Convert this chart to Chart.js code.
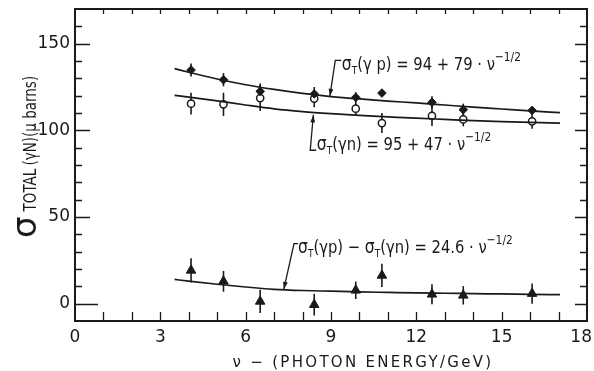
<!DOCTYPE html>
<html lang="en">
<head>
<meta charset="UTF-8">
<title>Total photon-nucleon cross section</title>
<script src="https://cdn.jsdelivr.net/npm/chart.js"></script>
<style>
  html, body { margin: 0; padding: 0; background: #fff; }
</style>
</head>
<body>
<canvas id="chart" width="594" height="371"></canvas>
<script>
// photon energies (GeV) of the measurements
const energy = [4.08, 5.22, 6.51, 8.41, 9.87, 10.79, 12.55, 13.65, 16.07];

// sigma_T(gamma p), filled points
const sigmaP = [134.8, 129.2, 122.5, 121.0, 119.0, 121.5, 116.2, 111.9, 111.5];
const errP   = [3.8, 3.8, 4.5, 4.0, 3.0, 0, 3.5, 3.5, 2.0];

// sigma_T(gamma n), open points
const sigmaN = [115.4, 115.0, 118.6, 118.3, 112.5, 104.2, 108.3, 106.3, 105.2];
const errN   = [6.3, 6.7, 7.5, 5.0, 4.0, 5.8, 5.8, 4.0, 4.3];

// difference p - n, triangles
const sigmaD = [19.2, 12.9, 1.3, -0.6, 7.7, 16.3, 5.4, 4.8, 5.8];
const errD   = [7.0, 6.0, 6.7, 6.3, 5.0, 6.7, 5.8, 5.3, 5.8];

// fitted curves as drawn on the plot
const fitNu   = [3.5, 4, 5, 6, 7, 8, 9, 10, 11, 12, 13, 14, 15, 16, 17.05];
const fitP    = [135.6, 133.5, 129.6, 126.3, 123.6, 121.3, 119.5, 118.1, 116.9, 115.8, 114.6, 113.4, 112.3, 111.2, 110.2];
const fitN    = [120.2, 119.2, 117.0, 114.6, 112.4, 110.8, 109.6, 108.6, 107.8, 107.0, 106.3, 105.6, 105.0, 104.6, 104.2];
const fitDiff = [14.0, 13.0, 11.2, 9.6, 8.3, 7.6, 7.2, 6.8, 6.5, 6.2, 6.0, 5.8, 5.6, 5.4, 5.2];

// labelled ticks
const xLabelTicks = [0, 3, 6, 9, 12, 15, 18];
const yLabelTicks = [0, 50, 100, 150];

const FONT = '"DejaVu Sans", sans-serif';
const INK = '#1a1a1a';

function pts(xs, ys) {
  return xs.map((x, i) => ({ x: x, y: ys[i] }));
}

// draw a run of text pieces (different sizes / offsets), optionally squeezed
function drawRuns(ctx, x, y, runs, sx) {
  runs.forEach(r => {
    const k = r.sx || sx || 1;
    ctx.font = r.font;
    ctx.save();
    ctx.translate(x, y + (r.dy || 0));
    ctx.scale(k, 1);
    ctx.fillText(r.text, 0, 0);
    ctx.restore();
    x += ctx.measureText(r.text).width * k + (r.gap || 0);
  });
  return x;
}

function arrowLine(ctx, p) {
  ctx.beginPath();
  ctx.moveTo(p[0][0], p[0][1]);
  for (let i = 1; i < p.length; i++) ctx.lineTo(p[i][0], p[i][1]);
  ctx.stroke();
  const a = p[p.length - 2], b = p[p.length - 1];
  const ang = Math.atan2(b[1] - a[1], b[0] - a[0]);
  ctx.beginPath();
  ctx.moveTo(b[0], b[1]);
  ctx.lineTo(b[0] - 8 * Math.cos(ang - 0.3), b[1] - 8 * Math.sin(ang - 0.3));
  ctx.lineTo(b[0] - 8 * Math.cos(ang + 0.3), b[1] - 8 * Math.sin(ang + 0.3));
  ctx.closePath();
  ctx.fill();
}

const decor = {
  id: 'decor',
  beforeDatasetsDraw(chart) {
    // error bars
    const ctx = chart.ctx, xs = chart.scales.x, ys = chart.scales.y;
    ctx.save();
    ctx.strokeStyle = INK;
    ctx.lineWidth = 1.6;
    [[sigmaP, errP], [sigmaN, errN], [sigmaD, errD]].forEach(([v, e]) => {
      v.forEach((val, i) => {
        if (!e[i]) return;
        const px = xs.getPixelForValue(energy[i]);
        ctx.beginPath();
        ctx.moveTo(px, ys.getPixelForValue(val - e[i]));
        ctx.lineTo(px, ys.getPixelForValue(val + e[i]));
        ctx.stroke();
      });
    });
    ctx.restore();
  },
  afterDraw(chart) {
    const ctx = chart.ctx, xs = chart.scales.x, ys = chart.scales.y;
    const ca = chart.chartArea;
    const X = v => xs.getPixelForValue(v), Y = v => ys.getPixelForValue(v);
    ctx.save();
    ctx.strokeStyle = INK;
    ctx.fillStyle = INK;

    // frame
    ctx.lineWidth = 2;
    ctx.strokeRect(ca.left, ca.top, ca.right - ca.left, ca.bottom - ca.top);

    // inward ticks
    ctx.lineWidth = 1.3;
    ctx.beginPath();
    for (let v = 0; v <= 160; v += 10) {
      const py = Math.round(Y(v)) + 0.5;
      const l = v === 0 ? 23 : (v % 50 === 0 ? 15 : 7);
      ctx.moveTo(ca.left, py); ctx.lineTo(ca.left + l, py);
      const r = v % 50 === 0 ? 12 : 7;
      ctx.moveTo(ca.right, py); ctx.lineTo(ca.right - r, py);
    }
    for (let n = 1; n < 18; n++) {
      const px = Math.round(X(n)) + 0.5;
      ctx.moveTo(px, ca.bottom); ctx.lineTo(px, ca.bottom - 9);
      ctx.moveTo(px, ca.top); ctx.lineTo(px, ca.top + 5);
    }
    ctx.stroke();

    // x tick labels (kept inside the canvas at the right end)
    ctx.font = '17px ' + FONT;
    ctx.textBaseline = 'alphabetic';
    xLabelTicks.forEach(v => {
      const s = String(v), w = ctx.measureText(s).width;
      const left = Math.min(X(v) - w / 2, chart.width - w - 2);
      ctx.fillText(s, left, ca.bottom + 21);
    });

    // y axis title
    ctx.save();
    ctx.translate(36, 238);
    ctx.rotate(-Math.PI / 2);
    drawRuns(ctx, 0, 0, [
      { text: 'σ', font: '34px ' + FONT, gap: 5, sx: 1 },
      { text: 'TOTAL', font: '18px ' + FONT, gap: 3 },
      { text: '(γN)(μ barns)', font: '18px ' + FONT }
    ], 0.75);
    ctx.restore();

    // x axis title
    ctx.save();
    ctx.font = '15px ' + FONT;
    if ('letterSpacing' in ctx) ctx.letterSpacing = '2.3px';
    ctx.textAlign = 'center';
    ctx.fillText('ν − (PHOTON ENERGY/GeV)', 363, 367);
    ctx.restore();

    // fit annotations
    ctx.lineWidth = 1.3;
    const big = '19px ' + FONT, sub = '11px ' + FONT, sup = '13px ' + FONT, mid = '18px ' + FONT;
    const SQ = 0.82;

    drawRuns(ctx, X(9.38), Y(134.6), [
      { text: 'σ', font: big },
      { text: 'T', font: sub, dy: 4 },
      { text: '(γ p) = 94 + 79 · ν', font: mid },
      { text: '−1/2', font: sup, dy: -9 }
    ], SQ);
    arrowLine(ctx, [[X(9.36), Y(140.4)], [X(9.15), Y(140.4)], [X(8.96), Y(119.6)]]);

    drawRuns(ctx, X(8.5), Y(88.5), [
      { text: 'σ', font: big },
      { text: 'T', font: sub, dy: 4 },
      { text: '(γn) = 95 + 47 · ν', font: mid },
      { text: '−1/2', font: sup, dy: -9 }
    ], SQ);
    arrowLine(ctx, [[X(8.48), Y(88.5)], [X(8.27), Y(88.5)], [X(8.38), Y(109.0)]]);

    drawRuns(ctx, X(7.84), Y(29.0), [
      { text: 'σ', font: big },
      { text: 'T', font: sub, dy: 4 },
      { text: '(γp) − ', font: mid },
      { text: 'σ', font: big },
      { text: 'T', font: sub, dy: 4 },
      { text: '(γn) = 24.6 · ν', font: mid },
      { text: '−1/2', font: sup, dy: -9 }
    ], SQ);
    arrowLine(ctx, [[X(7.84), Y(34.6)], [X(7.70), Y(34.6)], [X(7.34), Y(8.2)]]);

    ctx.restore();
  }
};

const fitStyle = {
  showLine: true, pointRadius: 0, borderColor: INK, borderWidth: 1.7,
  cubicInterpolationMode: 'monotone', fill: false
};

new Chart(document.getElementById('chart'), {
  type: 'scatter',
  data: {
    datasets: [
      Object.assign({ label: 'fit p', data: pts(fitNu, fitP) }, fitStyle),
      Object.assign({ label: 'fit n', data: pts(fitNu, fitN) }, fitStyle),
      Object.assign({ label: 'fit p-n', data: pts(fitNu, fitDiff) }, fitStyle),
      { label: 'σT(γp)', data: pts(energy, sigmaP), pointStyle: 'rectRot', pointRadius: 4.3,
        backgroundColor: INK, borderColor: INK, borderWidth: 1 },
      { label: 'σT(γn)', data: pts(energy, sigmaN), pointStyle: 'circle', pointRadius: 3.6,
        backgroundColor: '#fff', borderColor: INK, borderWidth: 1.5 },
      { label: 'σT(γp)-σT(γn)', data: pts(energy, sigmaD), pointStyle: 'triangle', pointRadius: 5.5,
        backgroundColor: INK, borderColor: INK, borderWidth: 1 }
    ]
  },
  options: {
    responsive: false,
    animation: false,
    devicePixelRatio: 1,
    layout: { padding: { top: 9, right: 7, left: 0, bottom: 0 } },
    plugins: { legend: { display: false }, tooltip: { enabled: false } },
    scales: {
      x: {
        type: 'linear', min: 0, max: 18,
        afterBuildTicks: s => { s.ticks = xLabelTicks.map(v => ({ value: v })); },
        afterFit: s => { s.height = 50; s.paddingLeft = 0; s.paddingRight = 0; },
        grid: { display: false, drawTicks: false },
        border: { display: false },
        ticks: { display: false }
      },
      y: {
        type: 'linear', min: -10, max: 170,
        afterBuildTicks: s => { s.ticks = yLabelTicks.map(v => ({ value: v })); },
        afterFit: s => { s.width = 75; s.paddingTop = 0; s.paddingBottom = 0; },
        grid: { display: false, drawTicks: false },
        border: { display: false },
        ticks: { color: INK, font: { family: FONT, size: 17 }, padding: 5 }
      }
    }
  },
  plugins: [decor]
});
</script>
</body>
</html>
